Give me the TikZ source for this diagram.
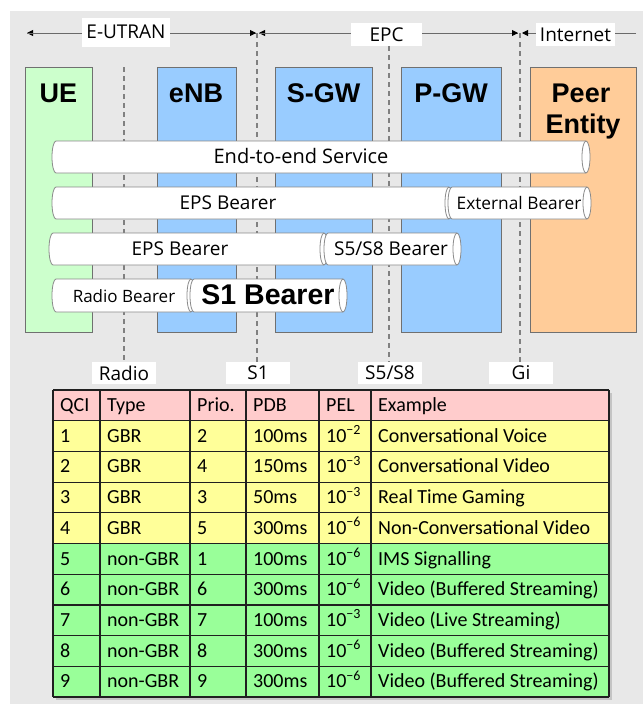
\documentclass[tikz,border=0pt]{standalone}
\usepackage{fontspec}
\setmainfont{Carlito}
\newfontfamily\osans{Open Sans}
\newfontfamily\lsans{Liberation Sans}
\usetikzlibrary{arrows.meta}
\definecolor{bg}{HTML}{E8E8E8}
\definecolor{uegreen}{HTML}{CCFFCC}
\definecolor{nodeblue}{HTML}{99CCFF}
\definecolor{peerorange}{HTML}{FFCC99}
\definecolor{hdrpink}{HTML}{FFCCCC}
\definecolor{rowyellow}{HTML}{FFFF99}
\definecolor{rowgreen}{HTML}{99FF99}
\definecolor{boxedge}{HTML}{707070}
\definecolor{bearergray}{HTML}{8A8A8A}
\definecolor{hdrgray}{HTML}{6A6A6A}
\definecolor{dashgray}{HTML}{808080}
\definecolor{gridc}{HTML}{202020}
\definecolor{shadowgray}{HTML}{C4C4C4}
\tikzset{
  entitybox/.style={draw=boxedge, line width=0.9pt, anchor=north west, inner sep=0pt},
  titletext/.style={font=\lsans\bfseries\fontsize{27}{31}\selectfont, inner sep=0pt, anchor=base},
  bearerfill/.style={fill=white, draw=bearergray, line width=0.8pt},
  bearerline/.style={draw=bearergray, line width=0.8pt},
  bearertext/.style={font=\osans\fontsize{19}{22}\selectfont, inner sep=0pt, anchor=base},
  hdrline/.style={draw=hdrgray, line width=0.9pt},
  hdrtip/.style={-{Triangle[length=6pt,width=6pt,color=black]}},
  lblbox/.style={fill=white, inner sep=0pt, font=\osans\fontsize{19}{22}\selectfont},
  ifline/.style={draw=dashgray, line width=1.1pt, dash pattern=on 5pt off 4pt},
  gridline/.style={draw=gridc, line width=1.2pt},
  celltext/.style={font=\fontsize{20}{23}\selectfont, inner sep=0pt, anchor=base west}
}
\def\brx{4}
\newcommand\bearerpipe[4]{%
  \pgfmathsetmacro\bry{(#4-#3)/2}%
  \path[bearerfill] ({#1+\brx},#3) -- ({#2-\brx},#3)
     arc[start angle=-90,end angle=90,x radius=\brx,y radius=\bry]
     -- ({#1+\brx},#4)
     arc[start angle=90,end angle=270,x radius=\brx,y radius=\bry] -- cycle;
  \draw[bearerline] ({#2-\brx},#3) arc[start angle=-90,end angle=-270,x radius=\brx,y radius=\bry];
}
\begin{document}
\begin{tikzpicture}[x=1pt,y=-1pt]
\useasboundingbox (0,0) rectangle (643,704);
\fill[bg] (10,11) rectangle (643,704);

% entity boxes
\node[entitybox, fill=uegreen, minimum width=67pt, minimum height=265pt] (ue) at (25,67) {};
\node[entitybox, fill=nodeblue, minimum width=79pt, minimum height=265pt] (enb) at (157,67) {};
\node[entitybox, fill=nodeblue, minimum width=97pt, minimum height=265pt] (sgw) at (275,67) {};
\node[entitybox, fill=nodeblue, minimum width=100pt, minimum height=265pt] (pgw) at (401,67) {};
\node[entitybox, fill=peerorange, minimum width=106pt, minimum height=265pt] (peer) at (530,67) {};

\node[titletext] (uet) at (58.5,102) {UE};
\node[titletext] (enbt) at (196,102) {eNB};
\node[titletext] (sgwt) at (323.5,102) {S-GW};
\node[titletext] (pgwt) at (451,102) {P-GW};
\node[titletext] (peert) at (581,102) {Peer};
\node[titletext] (entt) at (583,133) {Entity};

% header arrows
\coordinate (a0) at (27,33);
\coordinate (a1) at (256,33);
\coordinate (a2) at (259,33);
\coordinate (a3) at (518,33);
\coordinate (a4) at (522,33);
\coordinate (a5) at (636,33);
\draw[hdrline, hdrtip] (a1) -- (a0);
\draw[hdrline, hdrtip] (a0) -- (a1);
\draw[hdrline, hdrtip] (a3) -- (a2);
\draw[hdrline, hdrtip] (a2) -- (a3);
\draw[hdrline, hdrtip] (a5) -- (a4);
\node[lblbox, minimum width=88pt, minimum height=29pt] (eutran) at (126,32) {E-UTRAN};
\node[lblbox, minimum width=71pt, minimum height=23pt] (epc) at (386.5,34.5) {EPC};
\node[lblbox, minimum width=79pt, minimum height=23pt] (inet) at (575.5,34.5) {Internet};

% interface labels
\node[lblbox, minimum width=64pt, minimum height=22pt] (radiol) at (124,373) {Radio};
\node[lblbox, minimum width=64pt, minimum height=22pt] (s1l) at (258,373) {S1};
\node[lblbox, minimum width=64pt, minimum height=22pt] (s5l) at (390,373) {S5/S8};
\node[lblbox, minimum width=64pt, minimum height=22pt] (gil) at (521,373) {Gi};

% interface dashed lines
\coordinate (radtop) at (124,67);
\coordinate (s1top) at (257,33);
\coordinate (s5top) at (389,46);
\coordinate (gitop) at (520,33);
\draw[ifline] (radtop) -- (radiol.north);
\draw[ifline] (s1top) -- (s1l.north -| s1top);
\draw[ifline] (s5top) -- (s5l.north -| s5top);
\draw[ifline] (gitop) -- (gil.north -| gitop);

% bearers
\bearerpipe{52}{590}{141}{173}
\node[bearertext, font=\osans\fontsize{20}{23}\selectfont] (e2e) at (301,163) {End-to-end Service};
\bearerpipe{52}{453}{187}{219}
\node[bearertext] (eps1) at (228,209) {EPS Bearer};
\bearerpipe{448}{591}{187}{219}
\node[bearertext, font=\osans\fontsize{17.3}{20}\selectfont] (ext) at (519,209) {External Bearer};
\bearerpipe{49}{328}{233}{265}
\node[bearertext] (eps2) at (180,255) {EPS Bearer};
\bearerpipe{324}{461}{233}{265}
\node[bearertext] (s5b) at (391,255) {S5/S8 Bearer};
\bearerpipe{52}{195}{279}{312}
\node[bearertext, font=\osans\fontsize{17}{20}\selectfont] (radb) at (124,302) {Radio Bearer};
\bearerpipe{190}{347}{279}{312}
\node[bearertext, font=\lsans\bfseries\fontsize{28.5}{32}\selectfont] (s1b) at (268,304) {S1 Bearer};

% table
\fill[shadowgray] (56,393) rectangle (612,700);
\fill[hdrpink] (53,390) rectangle (609,420.7);
\fill[rowyellow] (53,420.7) rectangle (609,543.5);
\fill[rowgreen] (53,543.5) rectangle (609,697);
\foreach \k in {0,...,10} {
  \pgfmathsetmacro\yy{390+30.7*\k}
  \draw[gridline] (53,\yy) -- (609,\yy);
}
\foreach \xx in {53,100,190,246,319,371,609} {
  \draw[gridline] (\xx,390) -- (\xx,697);
}
\node[celltext] (hq) at (60,411.5) {QCI};
\node[celltext] (ht) at (107,411.5) {Type};
\node[celltext] (hp) at (197,411.5) {Prio.};
\node[celltext] (hd) at (253,411.5) {PDB};
\node[celltext] (he) at (326,411.5) {PEL};
\node[celltext] (hx) at (378,411.5) {Example};
\foreach \q/\t/\p/\d/\e/\ex [count=\i] in {
  1/GBR/2/100ms/2/Conversational Voice,
  2/GBR/4/150ms/3/Conversational Video,
  3/GBR/3/50ms/3/Real Time Gaming,
  4/GBR/5/300ms/6/Non-Conversational Video,
  5/non-GBR/1/100ms/6/IMS Signalling,
  6/non-GBR/6/300ms/6/Video (Buffered Streaming),
  7/non-GBR/7/100ms/3/Video (Live Streaming),
  8/non-GBR/8/300ms/6/Video (Buffered Streaming),
  9/non-GBR/9/300ms/6/Video (Buffered Streaming)} {
  \pgfmathsetmacro\by{390+30.7*\i+21.5}
  \node[celltext] (q\i) at (60,\by) {\q};
  \node[celltext] (t\i) at (107,\by) {\t};
  \node[celltext] (p\i) at (197,\by) {\p};
  \node[celltext] (d\i) at (253,\by) {\d};
  \node[celltext] (e\i) at (326,\by) {10\textsuperscript{−\e}};
  \node[celltext] (x\i) at (378,\by) {\ex};
}
\end{tikzpicture}
\end{document}
